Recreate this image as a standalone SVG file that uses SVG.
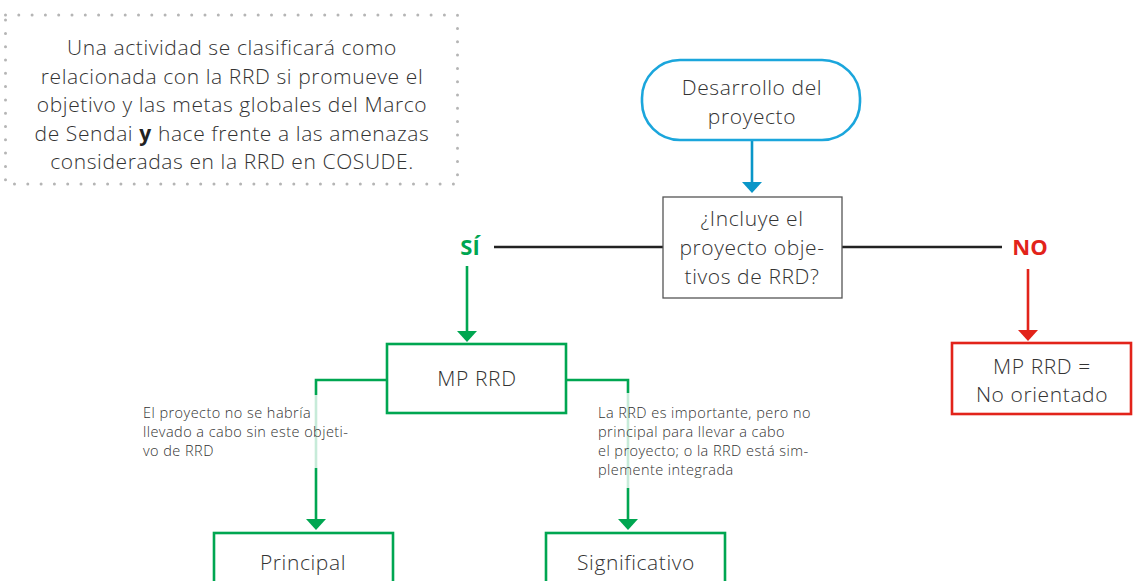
<svg xmlns="http://www.w3.org/2000/svg" width="1138" height="581" viewBox="0 0 1138 581">
<style>
text{font-family:"Open Sans","Noto Sans","Liberation Sans",sans-serif;fill:#333;}
.big{font-size:21px;text-anchor:middle;letter-spacing:0.6px;font-weight:300;}
.small{font-size:14.5px;letter-spacing:0.45px;font-weight:300;}
.g{stroke:#00a651;stroke-width:2.6;fill:none;}
.gbox{stroke:#00a651;stroke-width:2.6;fill:#fff;}
.mask{fill:#fff;opacity:0.78;}
.yn{font-size:22px;font-weight:bold;text-anchor:middle;}
</style>
<g id="note">
<rect x="5.5" y="15" width="452" height="169" fill="none" stroke="#b5b5b5" stroke-width="3" stroke-linecap="round" stroke-dasharray="0 13.3"/>
<text class="big" x="232" y="55">Una actividad se clasificará como</text>
<text class="big" x="232" y="84">relacionada con la RRD si promueve el</text>
<text class="big" x="232" y="112">objetivo y las metas globales del Marco</text>
<text class="big" x="232" y="141">de Sendai <tspan font-weight="bold" fill="#222">y</tspan> hace frente a las amenazas</text>
<text class="big" x="232" y="169">consideradas en la RRD en COSUDE.</text>
</g>
<g id="connectors">
<line x1="752" y1="140" x2="752" y2="184" stroke="#0a96c8" stroke-width="2.6"/>
<path d="M742,182 L762,182 L752,193 Z" fill="#0a96c8"/>
<line x1="494" y1="247" x2="663" y2="247" stroke="#222" stroke-width="2.4"/>
<line x1="842" y1="247" x2="1002" y2="247" stroke="#222" stroke-width="2.4"/>
<line x1="467" y1="266" x2="467" y2="333" class="g"/>
<path d="M457,331 L477,331 L467,342 Z" fill="#00a651"/>
<line x1="1028" y1="269" x2="1028" y2="332" stroke="#e2231a" stroke-width="2.6"/>
<path d="M1018,330 L1038,330 L1028,341 Z" fill="#e2231a"/>
<polyline points="387,380 316,380 316,521" class="g"/>
<path d="M306,519 L326,519 L316,530 Z" fill="#00a651"/>
<polyline points="566,380 628,380 628,521" class="g"/>
<path d="M618,519 L638,519 L628,530 Z" fill="#00a651"/>
</g>
<g id="n-start">
<rect x="642" y="60" width="218" height="80" rx="38" ry="38" fill="#fff" stroke="#1ba6dc" stroke-width="2.6"/>
<text class="big" x="752" y="95">Desarrollo del</text>
<text class="big" x="752" y="124">proyecto</text>
</g>
<g id="n-question">
<rect x="663" y="197" width="179" height="101" fill="#fff" stroke="#555" stroke-width="1.3"/>
<text class="big" x="752" y="226">¿Incluye el</text>
<text class="big" x="752" y="255">proyecto obje-</text>
<text class="big" x="752" y="284">tivos de RRD?</text>
</g>
<g id="n-si">
<text class="yn" x="470" y="255" style="fill:#00a651">SÍ</text>
</g>
<g id="n-no">
<text class="yn" x="1030" y="255" style="fill:#e2231a">NO</text>
</g>
<g id="n-mp">
<rect x="387" y="344" width="179" height="69" class="gbox"/>
<text class="big" x="477" y="386">MP RRD</text>
</g>
<g id="n-noorient">
<rect x="952" y="343" width="179" height="71" fill="#fff" stroke="#e2231a" stroke-width="2.6"/>
<text class="big" x="1042" y="374">MP RRD =</text>
<text class="big" x="1042" y="402">No orientado</text>
</g>
<g id="label-principal">
<rect x="300" y="395" width="60" height="73" class="mask"/>
<text class="small" x="143" y="418">El proyecto no se habría</text>
<text class="small" x="143" y="437">llevado a cabo sin este  objeti-</text>
<text class="small" x="143" y="456">vo de RRD</text>
</g>
<g id="label-signif">
<rect x="610" y="393" width="40" height="95" class="mask"/>
<text class="small" x="598" y="418">La RRD es importante, pero no</text>
<text class="small" x="598" y="437">principal para llevar a cabo</text>
<text class="small" x="598" y="456">el proyecto; o la RRD está sim-</text>
<text class="small" x="598" y="475">plemente integrada</text>
</g>
<g id="n-principal">
<rect x="214" y="533" width="179" height="60" class="gbox"/>
<text class="big" x="303" y="570">Principal</text>
</g>
<g id="n-significativo">
<rect x="546" y="533" width="179" height="60" class="gbox"/>
<text class="big" x="636" y="570">Significativo</text>
</g>
</svg>
